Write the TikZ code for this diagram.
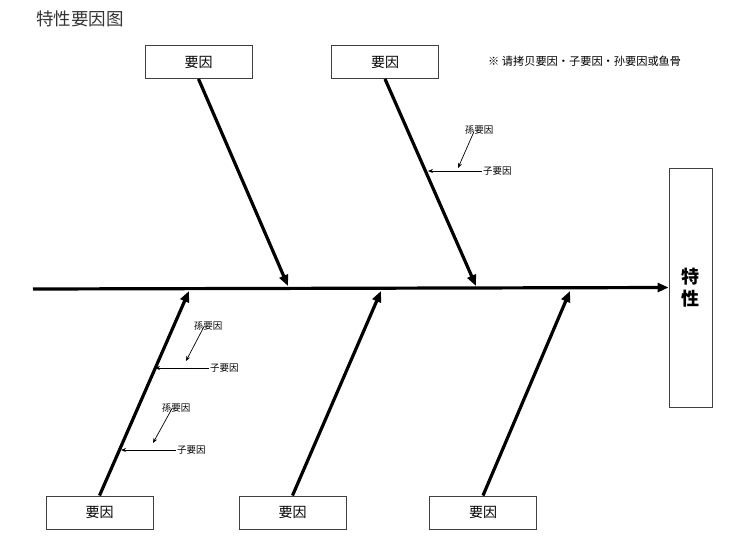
\documentclass[tikz,border=0pt]{standalone}
\usepackage{fontspec}
\setmainfont{Noto Sans CJK SC}
\usetikzlibrary{arrows.meta}
\begin{document}
\begin{tikzpicture}[x=1pt,y=-1pt,
  cause/.style={draw=black!75,line width=0.9pt,fill=white,minimum width=107pt,minimum height=33pt,inner sep=0pt,font=\fontsize{14}{16}\selectfont},
  bone/.style={line width=3.2pt,-{Triangle[length=11pt,width=9pt]}},
  twig/.style={line width=0.7pt,-{Stealth[length=5pt,width=4pt]}},
  small/.style={font=\fontsize{9.5}{11}\selectfont,inner sep=1pt}]
\useasboundingbox (0,0) rectangle (750,547);
\node[anchor=west,font=\fontsize{17.5}{20}\selectfont,text=black!80,inner sep=0pt] (title) at (36,19) {特性要因图};
\node[anchor=west,font=\fontsize{11.2}{13}\selectfont,inner sep=0pt] (note) at (488,61) {※ 请拷贝要因·子要因·孙要因或鱼骨};
% effect
\node[draw=black!75,line width=0.9pt,minimum width=43pt,minimum height=239pt,inner sep=0pt,font=\fontsize{18}{22}\selectfont\bfseries,align=center] (effect) at (690.5,287.5) {特\\性};
% spine
\coordinate (tail) at (33,289);
\draw[line width=3.2pt,-{Triangle[length=11pt,width=9pt]}] (tail) -- (effect.west);
% cause boxes
\node[cause] (c1) at (198.5,62) {要因};
\node[cause] (c2) at (385,62) {要因};
\node[cause] (c3) at (99.5,512.5) {要因};
\node[cause] (c4) at (292.5,512.5) {要因};
\node[cause] (c5) at (483,512.5) {要因};
% spine points
\coordinate (p1) at (288,286);
\coordinate (p2) at (476,286);
\coordinate (p3) at (189,291);
\coordinate (p4) at (381,291);
\coordinate (p5) at (570,291);
\draw[bone] (c1.south) -- (p1);
\draw[bone] (c2.south) -- (p2);
\draw[bone] (c3.north) -- (p3);
\draw[bone] (c4.north) -- (p4);
\draw[bone] (c5.north) -- (p5);
% sub causes on top bone 2
\node[small,anchor=west] (z1) at (482,171) {子要因};
\coordinate (b1) at (428,171);
\draw[twig] (z1.west) -- (b1);
\node[small] (g1) at (479,130) {孫要因};
\coordinate (g1e) at (458,168);
\draw[twig] ([xshift=-5pt,yshift=4pt]g1.south) -- (g1e);
% sub causes on bottom bone 1
\node[small,anchor=west] (z2) at (209,368) {子要因};
\coordinate (b2) at (155,368);
\draw[twig] (z2.west) -- (b2);
\node[small] (g2) at (208,326) {孫要因};
\coordinate (g2e) at (186,361);
\draw[twig] ([xshift=-4pt,yshift=5pt]g2.south) -- (g2e);
\node[small,anchor=west] (z3) at (176,450) {子要因};
\coordinate (b3) at (121,450);
\draw[twig] (z3.west) -- (b3);
\node[small] (g3) at (176,408) {孫要因};
\coordinate (g3e) at (153,443);
\draw[twig] ([xshift=-4pt,yshift=5pt]g3.south) -- (g3e);
\end{tikzpicture}
\end{document}
